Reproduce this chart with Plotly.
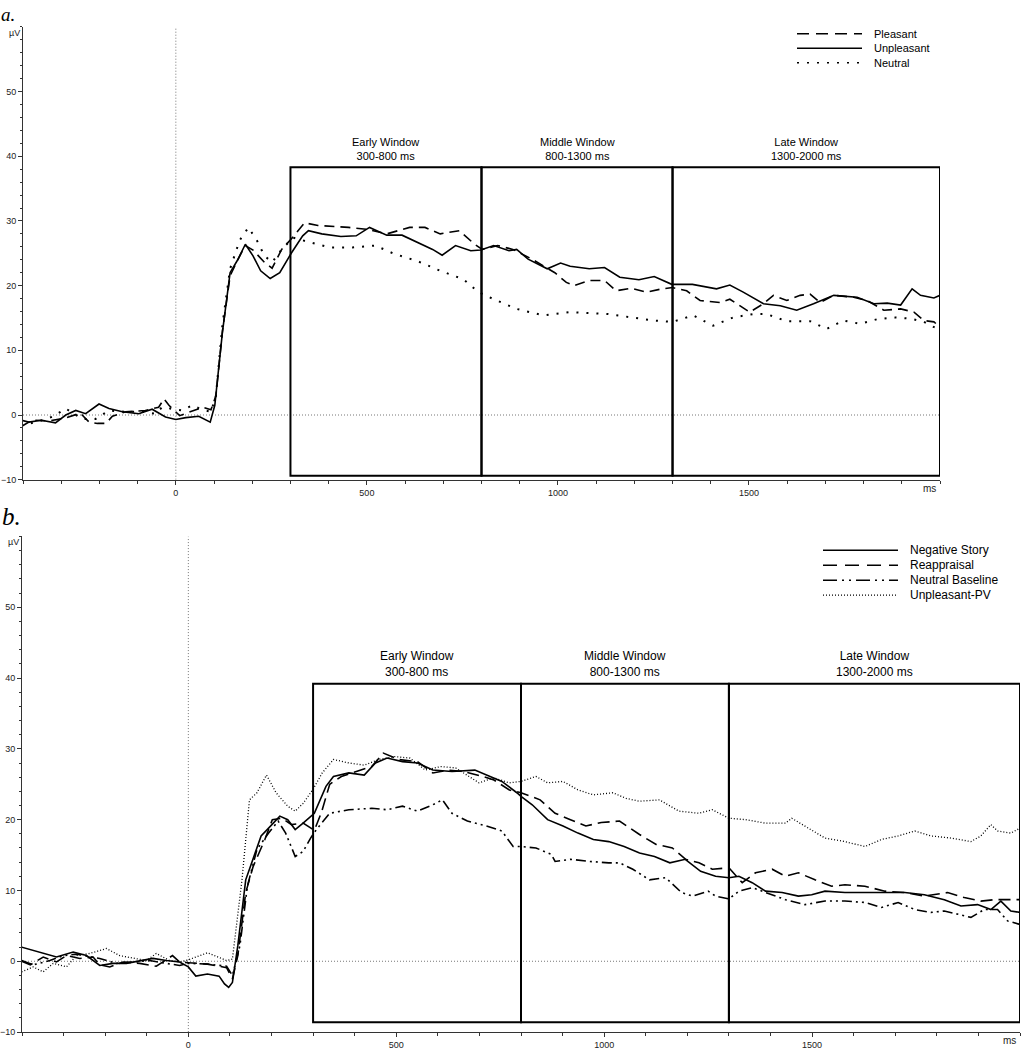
import plotly.graph_objects as go

# ---------------- Panel a data (ms, µV) ----------------
a_unpl_t = [-405,-385,-352,-315,-288,-262,-236,-201,-175,-140,-97,-62,-27,0,26,60,90,102,122,142,162,182,202,222,247,272,302,332,347,382,432,472,507,552,592,632,672,697,732,772,798,832,872,892,922,972,1007,1032,1082,1122,1162,1212,1252,1298,1352,1415,1450,1485,1538,1582,1625,1669,1722,1783,1827,1862,1897,1927,1949,1984,2000]
a_unpl_v = [-0.8,-1.1,-0.8,-1.2,0,0.7,0.2,1.7,1,0.5,0.2,0.9,-0.3,-0.7,-0.4,-0.2,-1.1,1.5,12.8,22,24,26.4,24.6,22.3,21.1,22,25,27.7,28.5,28,27.6,27.7,29,27.8,27.8,26.7,25.6,24.7,26.2,25.4,25.5,26.2,25.4,25.6,24.1,22.6,23.5,23,22.6,22.8,21.3,20.9,21.4,20.2,20.2,19.5,20.1,19,17.2,16.9,16.2,17.2,18.5,18.2,17.2,17.3,17,19.5,18.5,18.1,18.5]

a_pleas_t = [-405,-376,-333,-290,-250,-227,-205,-183,-166,-131,-80,-45,-31,-18,10,36,70,92,105,122,142,162,182,202,232,252,277,302,337,372,412,452,502,552,612,652,692,742,782,802,842,882,932,992,1022,1042,1082,1122,1152,1192,1232,1272,1300,1337,1372,1424,1450,1476,1502,1538,1564,1599,1634,1660,1686,1722,1774,1809,1853,1897,1932,1958,1984,2000]
a_pleas_v = [-1.8,-0.8,-0.9,-0.5,0.3,-1.1,-1.3,-1.3,-0.2,0.5,0.7,1.2,2.5,1.5,-0.1,0.5,1.2,0.8,3,13,21.5,24,26.2,25.5,23.6,22.7,25.6,27.2,29.7,29.3,29.2,29,28.7,28,29,29,28,28.5,26.4,25.6,26.2,25.6,24.1,22,20.5,20,20.8,20.8,19.2,19.6,19,19.5,19.7,19.2,17.7,17.4,17.9,16.9,15.9,17.2,18.5,17.7,18.5,18.7,17.4,18.5,18.2,17.7,16.2,16.4,15.9,14.6,14.4,13.6]

a_neut_t = [-405,-360,-320,-288,-245,-210,-175,-131,-88,-53,-36,-10,17,43,70,92,105,122,142,167,190,212,232,252,277,307,352,402,462,522,572,632,692,752,792,832,892,962,1032,1132,1192,1252,1300,1354,1406,1459,1511,1546,1599,1660,1703,1747,1791,1835,1879,1923,1958,2000]
a_neut_v = [-1.6,-1.0,-0.2,1,-0.6,-0.6,0.7,0.5,0.5,0.2,1.2,1,0.7,1.5,0.8,0.5,3,14,22.6,27,29,27,24.6,23.6,25.6,27.4,26.7,25.9,25.9,26.2,24.9,23.8,22.3,21,19,17.9,16.4,15.4,15.9,15.6,15.1,14.6,14.4,15.4,13.8,15.1,15.6,15.6,14.5,14.5,13.3,14.6,14.1,14.8,15.1,14.9,14.4,13.1]

# ---------------- Panel b data (ms, µV) ----------------
b_neg_t = [-401,-373,-349,-317,-277,-245,-213,-181,-149,-117,-85,-53,-21,0,18,46,74,87,97,106,119,138,156,175,193,220,239,257,276,303,331,349,386,423,450,478,515,551,588,634,689,717,754,790,800,827,864,901,937,974,1011,1048,1085,1121,1158,1195,1232,1268,1300,1324,1356,1388,1428,1467,1499,1531,1579,1627,1675,1723,1770,1818,1858,1898,1930,1954,1978,2000]
b_neg_v = [2,1.5,1.1,0.6,1.3,0.8,-0.6,-0.3,-0.3,0.1,0.4,0.1,-0.1,-0.8,-2.1,-1.8,-2.1,-3.2,-3.7,-3,2.2,11.5,14.4,17.7,18.8,20.5,20,18.6,19.5,20.9,24.7,26.1,26.6,26.3,28,28.7,28.2,28,27,26.8,27,26.3,25.4,23.8,23.3,22.1,20,19.1,18.1,17.2,16.9,16.2,15.3,14.8,13.9,14.4,12.7,12,11.8,12,11.1,9.9,9.7,9.2,9.4,9.9,9.7,9.7,9.7,9.7,9.4,8.7,7.8,8,7.3,8.5,7.1,6.9]

b_reap_t = [-401,-380,-349,-317,-293,-261,-229,-213,-189,-157,-117,-77,-38,-21,0,46,92,106,119,138,156,184,202,225,248,276,303,320,340,368,404,441,469,505,551,588,625,662,708,735,772,800,846,882,919,956,993,1037,1085,1125,1164,1196,1228,1260,1300,1332,1364,1404,1436,1467,1507,1547,1579,1627,1675,1723,1770,1826,1866,1906,1938,1970,2000]
b_reap_v = [0,-0.5,0.6,-0.1,0.8,0.4,0.6,-0.5,-0.8,-0.1,-0.3,-0.7,0.8,-0.1,-0.2,-0.4,-0.9,-2.5,0.8,9.7,13.4,17.2,20,20.2,19.3,19.5,18.5,21,25,26.1,26.8,27.5,29.4,28.5,28.2,26.6,27,26.8,26.1,25.6,24.2,23.8,22.8,20.9,20,19.1,19.6,19.8,17.9,16.5,16,14.4,13.9,13,13.2,11.1,12.5,13,12,12.5,11.5,10.6,10.8,10.6,9.9,9.7,9.2,9.7,9,8.5,8.7,8.7,8.7]

b_base_t = [-401,-373,-333,-301,-269,-237,-213,-173,-133,-93,-53,-21,0,46,92,106,124,142,165,193,216,234,257,276,294,308,340,386,441,478,515,551,588,611,634,671,717,754,781,800,836,873,882,919,965,1011,1037,1069,1109,1148,1186,1213,1250,1268,1300,1324,1356,1388,1436,1483,1531,1579,1627,1667,1707,1747,1786,1818,1850,1882,1914,1946,1970,2000]
b_base_v = [0.1,-0.5,0.1,0.8,1,0.6,0.4,-0.3,-0.1,0.1,-0.3,-0.6,-0.3,-0.4,-0.7,-2,2.2,10.6,15.8,18.1,19.8,18.1,14.8,15.5,17.4,18.6,20.9,21.4,21.6,21.4,21.9,21.2,22.1,22.8,20.9,19.8,19.1,18.4,16.2,16.2,16,15.1,14.1,14.4,14.1,13.9,13.9,13,11.5,11.8,9.7,9.2,9.9,9.2,8.8,9.9,10.4,9.7,8.7,8,8.5,8.5,8.3,7.6,8.3,7.3,6.9,7.1,6.6,6.2,7.3,7.3,5.7,5.2]

b_upv_t = [-401,-373,-349,-325,-293,-269,-237,-197,-165,-133,-101,-77,-45,-21,0,46,92,106,129,147,165,188,211,239,257,276,299,322,349,386,423,459,496,533,570,607,643,699,735,772,800,836,864,901,937,974,1021,1053,1085,1133,1180,1228,1260,1300,1340,1388,1436,1451,1483,1531,1579,1627,1667,1707,1747,1786,1834,1882,1906,1930,1946,1978,2000]
b_upv_v = [-1.5,-0.8,-1.5,-0.3,-0.8,0.8,1.1,1.8,0.8,0.4,0.1,1.1,0.1,-0.1,0.2,1.2,0.1,0.3,11.5,22.8,23.8,26.3,23.8,21.9,21.2,22.3,24.2,26.6,28.5,28,27.7,28.5,28.9,28.7,27,27.5,27.3,25.2,25.9,25.2,25.4,26.1,25.2,25.4,24.2,23.5,23.8,23,22.6,22.8,21.2,20.9,21.4,20.2,20,19.5,19.5,20.2,19.1,17.4,16.9,16.2,17.2,17.7,18.4,17.7,17.4,16.9,17.7,19.3,18.4,18.1,18.8]

# window definitions
win_edges = [300, 800, 1300, 2000]
win_names = ["Early Window", "Middle Window", "Late Window"]
win_ranges = ["300-800 ms", "800-1300 ms", "1300-2000 ms"]

x_ticks = [0, 500, 1000, 1500]
y_ticks = [-10, 0, 10, 20, 30, 40, 50]

W, H = 1024, 1050
def px(x): return x / W
def py(y): return 1 - y / H

FONT = "Liberation Sans, Arial, sans-serif"

fig = go.Figure()

series_a = [
    ("Pleasant", a_pleas_t, a_pleas_v, dict(color="black", width=1.6, dash="10px,6px")),
    ("Unpleasant", a_unpl_t, a_unpl_v, dict(color="black", width=1.6)),
    ("Neutral", a_neut_t, a_neut_v, dict(color="black", width=2, dash="2px,8px")),
]
series_b = [
    ("Negative Story", b_neg_t, b_neg_v, dict(color="black", width=1.6)),
    ("Reappraisal", b_reap_t, b_reap_v, dict(color="black", width=1.6, dash="12px,6px")),
    ("Neutral Baseline", b_base_t, b_base_v, dict(color="black", width=1.6, dash="10px,4px,2px,4px,2px,4px")),
    ("Unpleasant-PV", b_upv_t, b_upv_v, dict(color="black", width=1.3, dash="1px,2px")),
]

for name, t, v, ln in series_a:
    fig.add_trace(go.Scatter(x=t, y=v, mode="lines", name=name, line=ln,
                             xaxis="x", yaxis="y", showlegend=False))
for name, t, v, ln in series_b:
    fig.add_trace(go.Scatter(x=t, y=v, mode="lines", name=name, line=ln,
                             xaxis="x2", yaxis="y2", showlegend=False))

def xax(domain, anchor):
    return dict(domain=domain, anchor=anchor, range=[-400, 2000], showline=True,
                linecolor="#333", linewidth=1, ticks="outside", ticklen=4,
                tickcolor="#333", tickvals=x_ticks, showgrid=False, zeroline=False,
                tickfont=dict(family=FONT, size=9, color="#222"),
                minor=dict(ticks="outside", ticklen=3, dtick=100, tick0=0, tickcolor="#333"))

def yax(domain, anchor):
    return dict(domain=domain, anchor=anchor, range=[-10, 60], showline=True,
                linecolor="#333", linewidth=1, ticks="outside", ticklen=4,
                tickcolor="#333", tickvals=y_ticks, showgrid=False, zeroline=False,
                tickfont=dict(family=FONT, size=9, color="#222"),
                minor=dict(ticks="outside", ticklen=2, dtick=2, tick0=0, tickcolor="#333"))

shapes = []
annotations = []

panels = [
    dict(xr="x", yr="y", bot=-9.4, top=38.3, fs=11),
    dict(xr="x2", yr="y2", bot=-8.6, top=39.2, fs=12),
]
for p in panels:
    shapes.append(dict(type="line", xref=p["xr"], yref=p["yr"], x0=-400, x1=2000, y0=0, y1=0,
                       line=dict(color="#777", width=1, dash="1px,2px"), layer="below"))
    shapes.append(dict(type="line", xref=p["xr"], yref=p["yr"], x0=0, x1=0, y0=-10, y1=60,
                       line=dict(color="#777", width=1, dash="1px,2px"), layer="below"))
    for i in range(3):
        shapes.append(dict(type="rect", xref=p["xr"], yref=p["yr"],
                           x0=win_edges[i], x1=win_edges[i + 1], y0=p["bot"], y1=p["top"],
                           line=dict(color="black", width=2)))
        annotations.append(dict(xref=p["xr"], yref=p["yr"],
                                x=(win_edges[i] + win_edges[i + 1]) / 2, y=p["top"],
                                yanchor="bottom", yshift=3, showarrow=False,
                                text=f"{win_names[i]}<br>{win_ranges[i]}",
                                font=dict(family=FONT, size=p["fs"], color="black")))

# manual legends
leg_a = [("Pleasant", dict(color="black", width=1.5, dash="12px,7px")),
         ("Unpleasant", dict(color="black", width=1.5)),
         ("Neutral", dict(color="black", width=1.5, dash="2px,8px"))]
for i, (name, ln) in enumerate(leg_a):
    y = 34 + i * 14.5
    shapes.append(dict(type="line", xref="paper", yref="paper", x0=px(797), x1=px(862),
                       y0=py(y), y1=py(y), line=ln))
    annotations.append(dict(xref="paper", yref="paper", x=px(872), y=py(y), xanchor="left",
                            yanchor="middle", showarrow=False, text=name,
                            font=dict(family=FONT, size=11, color="black")))

leg_b = [("Negative Story", dict(color="black", width=1.5)),
         ("Reappraisal", dict(color="black", width=1.5, dash="14px,8px")),
         ("Neutral Baseline", dict(color="black", width=1.5, dash="14px,5px,2px,5px,2px,5px")),
         ("Unpleasant-PV", dict(color="black", width=1.2, dash="1px,2px"))]
for i, (name, ln) in enumerate(leg_b):
    y = 553 + i * 15
    shapes.append(dict(type="line", xref="paper", yref="paper", x0=px(823), x1=px(898),
                       y0=py(y), y1=py(y), line=ln))
    annotations.append(dict(xref="paper", yref="paper", x=px(908), y=py(y), xanchor="left",
                            yanchor="middle", showarrow=False, text=name,
                            font=dict(family=FONT, size=12, color="black")))

SERIF = "Liberation Serif, Times New Roman, serif"
annotations += [
    dict(xref="paper", yref="paper", x=px(0), y=py(26), xanchor="left", yanchor="bottom", showarrow=False,
         borderpad=0, text="<i>a.</i>", font=dict(family=SERIF, size=19, color="black")),
    dict(xref="paper", yref="paper", x=px(0), y=py(519), xanchor="left", yanchor="middle", showarrow=False,
         text="<i>b.</i>", font=dict(family=SERIF, size=25, color="black")),
    dict(xref="paper", yref="paper", x=px(21), y=py(33), xanchor="right", yanchor="middle", showarrow=False,
         borderpad=0, text="µV", font=dict(family=FONT, size=9, color="#222")),
    dict(xref="paper", yref="paper", x=px(21), y=py(545), xanchor="right", yanchor="middle", showarrow=False,
         text="µV", font=dict(family=FONT, size=9, color="#222")),
    dict(xref="paper", yref="paper", x=px(938), y=py(491), xanchor="right", yanchor="middle", showarrow=False,
         text="ms", font=dict(family=FONT, size=10, color="#222")),
    dict(xref="paper", yref="paper", x=px(1018), y=py(1045), xanchor="right", yanchor="middle", showarrow=False,
         text="ms", font=dict(family=FONT, size=10, color="#222")),
]

fig.update_layout(
    width=W, height=H,
    margin=dict(l=0, r=0, t=0, b=0),
    paper_bgcolor="white", plot_bgcolor="white",
    xaxis=xax([px(23), px(940)], "y"),
    yaxis=yax([py(482), py(27)], "x"),
    xaxis2=xax([px(22), px(1020)], "y2"),
    yaxis2=yax([py(1037), py(539)], "x2"),
    shapes=shapes, annotations=annotations,
    showlegend=False,
)

fig.write_html("out.html", config={"displayModeBar": False},
               post_script="document.body.style.margin='0';document.body.style.padding='0';")
